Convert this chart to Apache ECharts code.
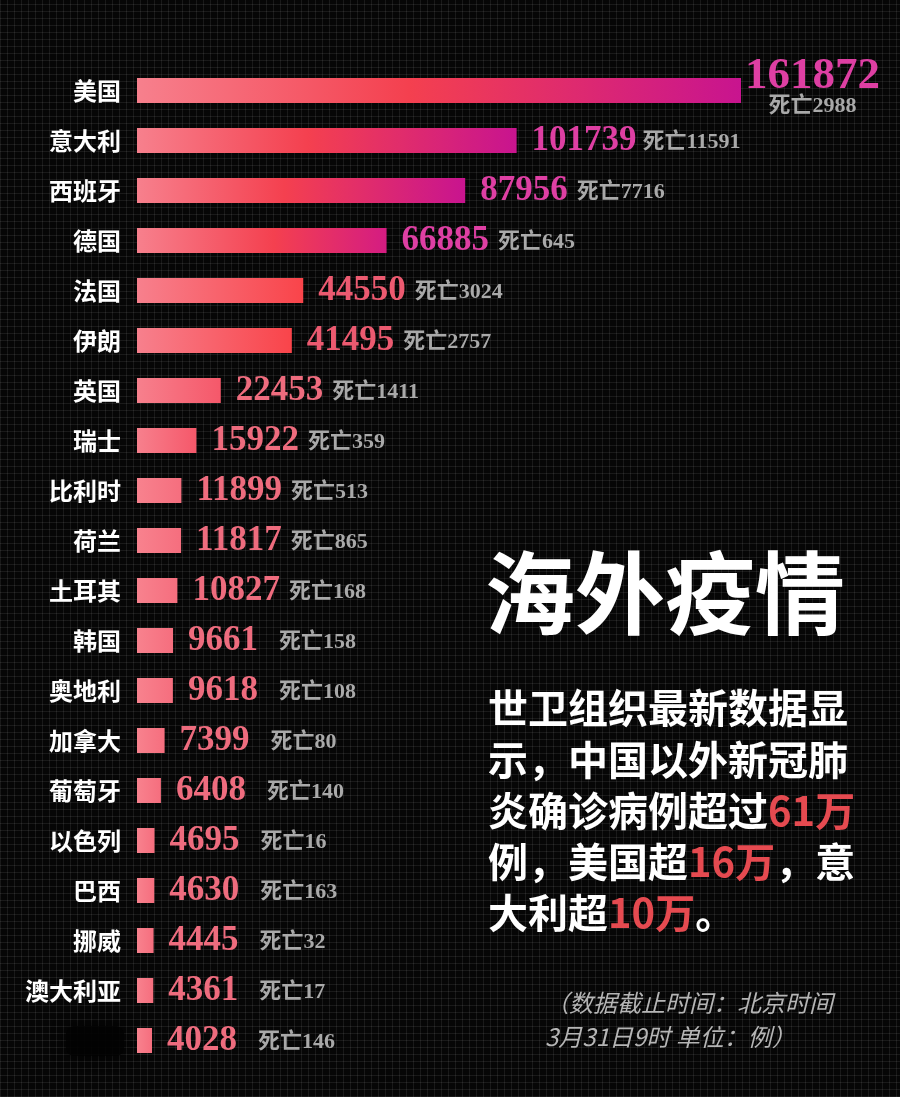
<!DOCTYPE html>
<html><head><meta charset="utf-8">
<script src="https://cdn.jsdelivr.net/npm/echarts@6/dist/echarts.min.js"></script>
<style>
html,body{margin:0;padding:0;}
body{width:900px;height:1097px;background-color:#060606;
background-image:
 repeating-linear-gradient(0deg, rgba(255,255,255,0.08) 0px, rgba(255,255,255,0.08) 1px, transparent 1px, transparent 7px),
 repeating-linear-gradient(90deg, rgba(255,255,255,0.08) 0px, rgba(255,255,255,0.08) 1px, transparent 1px, transparent 7px);}
#chart{width:900px;height:1097px;}
</style></head>
<body><div id="chart"></div>
<script>
// ---- data ----
const categories = ['美国','意大利','西班牙','德国','法国','伊朗','英国','瑞士','比利时','荷兰','土耳其','韩国','奥地利','加拿大','葡萄牙','以色列','巴西','挪威','澳大利亚',''];
const confirmed  = [161872,101739,87956,66885,44550,41495,22453,15922,11899,11817,10827,9661,9618,7399,6408,4695,4630,4445,4361,4028];
const deaths     = [2988,11591,7716,645,3024,2757,1411,359,513,865,168,158,108,80,140,16,163,32,17,146];
const titleText  = '海外疫情';
const bodyLines  = ['世卫组织最新数据显','示，中国以外新冠肺','炎确诊病例超过{r|61万}','例，美国超{r|16万}，意','大利超{r|10万}。'];
const noteLines  = ['（数据截止时间：北京时间','3月31日9时 单位：例）'];

// ---- styles ----
const NUM_FONT = '"Liberation Serif","DejaVu Serif","Noto Sans CJK SC",serif';
const CJK_FONT = '"Noto Sans CJK SC","Noto Sans",sans-serif';
const PINK = '#f7808d', RED = '#f4404f', MAG = '#c8148f';

function barColor(v){
  let stops;
  if (v >= 80000) stops = [[0,PINK],[0.45,RED],[1,MAG]];
  else if (v >= 60000) stops = [[0,PINK],[0.55,RED],[1,'#d41c82']];
  else if (v >= 35000) stops = [[0,PINK],[1,'#f9444a']];
  else if (v >= 15000) stops = [[0,PINK],[1,'#f5586a']];
  else stops = [[0,'#f8828e'],[1,'#f56e7e']];
  return new echarts.graphic.LinearGradient(0,0,1,0,stops.map(s=>({offset:s[0],color:s[1]})));
}
function numColor(v){
  if (v >= 60000) return '#de3fa3';
  if (v >= 35000) return '#ec5a70';
  return '#ee6c7e';
}
function buildLabel(v,i){
  const digits = String(v).length;
  const gap = digits <= 4 ? 21 : (digits === 5 ? 9 : 6);
  if (i === 0) {
    return {
      distance: 4, offset:[0,-2],
      formatter: '{v|' + v + '}\n{d|死亡' + deaths[i] + '}',
      rich: {
        v: {fontFamily: NUM_FONT, fontWeight:'bold', fontSize:45, color: numColor(v), lineHeight:36},
        d: {fontFamily: NUM_FONT, fontWeight:'bold', fontSize:22, color:'#a9a9a9', lineHeight:24, align:'center'}
      }
    };
  }
  return {
    formatter: '{v|' + v + '}{d|死亡' + deaths[i] + '}',
    rich: {
      v: {fontFamily: NUM_FONT, fontWeight:'bold', fontSize:35, color: numColor(v), padding:[0,gap,0,0]},
      d: {fontFamily: NUM_FONT, fontWeight:'bold', fontSize:22, color:'#a9a9a9', padding:[3,0,0,0]}
    }
  };
}

const chart = echarts.init(document.getElementById('chart'), null, {renderer:'canvas'});
const option = {
  backgroundColor: 'transparent',
  animation: false,
  grid: {left:137, right:159, top:65.5, bottom:31.5, containLabel:false},
  xAxis: {type:'value', min:0, max:161872, show:false},
  yAxis: {
    type:'category', data: categories, inverse:true,
    axisLine:{show:false}, axisTick:{show:false}, splitLine:{show:false},
    axisLabel:{color:'#ffffff', fontFamily: CJK_FONT, fontWeight:'bold', fontSize:24, margin:16}
  },
  series: [{
    type:'bar', barWidth:25,
    data: confirmed.map((v,i)=>({value:v, itemStyle:{color: barColor(v)}, label: buildLabel(v,i)})),
    label: {show:true, position:'right', distance:15}
  }],
  graphic: [
    {type:'rect', shape:{x:66,y:1026,width:58,height:30,r:8}, style:{fill:'rgba(3,3,3,0.8)', shadowBlur:14, shadowColor:'rgba(3,3,3,0.9)'}, silent:true},
    {type:'text', style:{text:titleText, x:485, y:593, fill:'#ffffff', font:'bold 90px ' + CJK_FONT, verticalAlign:'middle', align:'left'}},
  ].concat(bodyLines.map((t,k)=>({
    type:'text',
    style:{text:t, x:488, y:708 + k*51.3, fill:'#ffffff', font:'bold 40px ' + CJK_FONT, verticalAlign:'middle', align:'left',
      rich:{r:{fill:'#e54a50', font:'bold 40px ' + CJK_FONT}}}
  }))).concat(noteLines.map((t,k)=>({
    type:'text',
    style:{text:t, x:545, y:1003 + k*34, fill:'#b5b5b5', font:'italic 24px ' + CJK_FONT, verticalAlign:'middle', align:'left'}
  })))
};
chart.setOption(option);
</script>
</body></html>
